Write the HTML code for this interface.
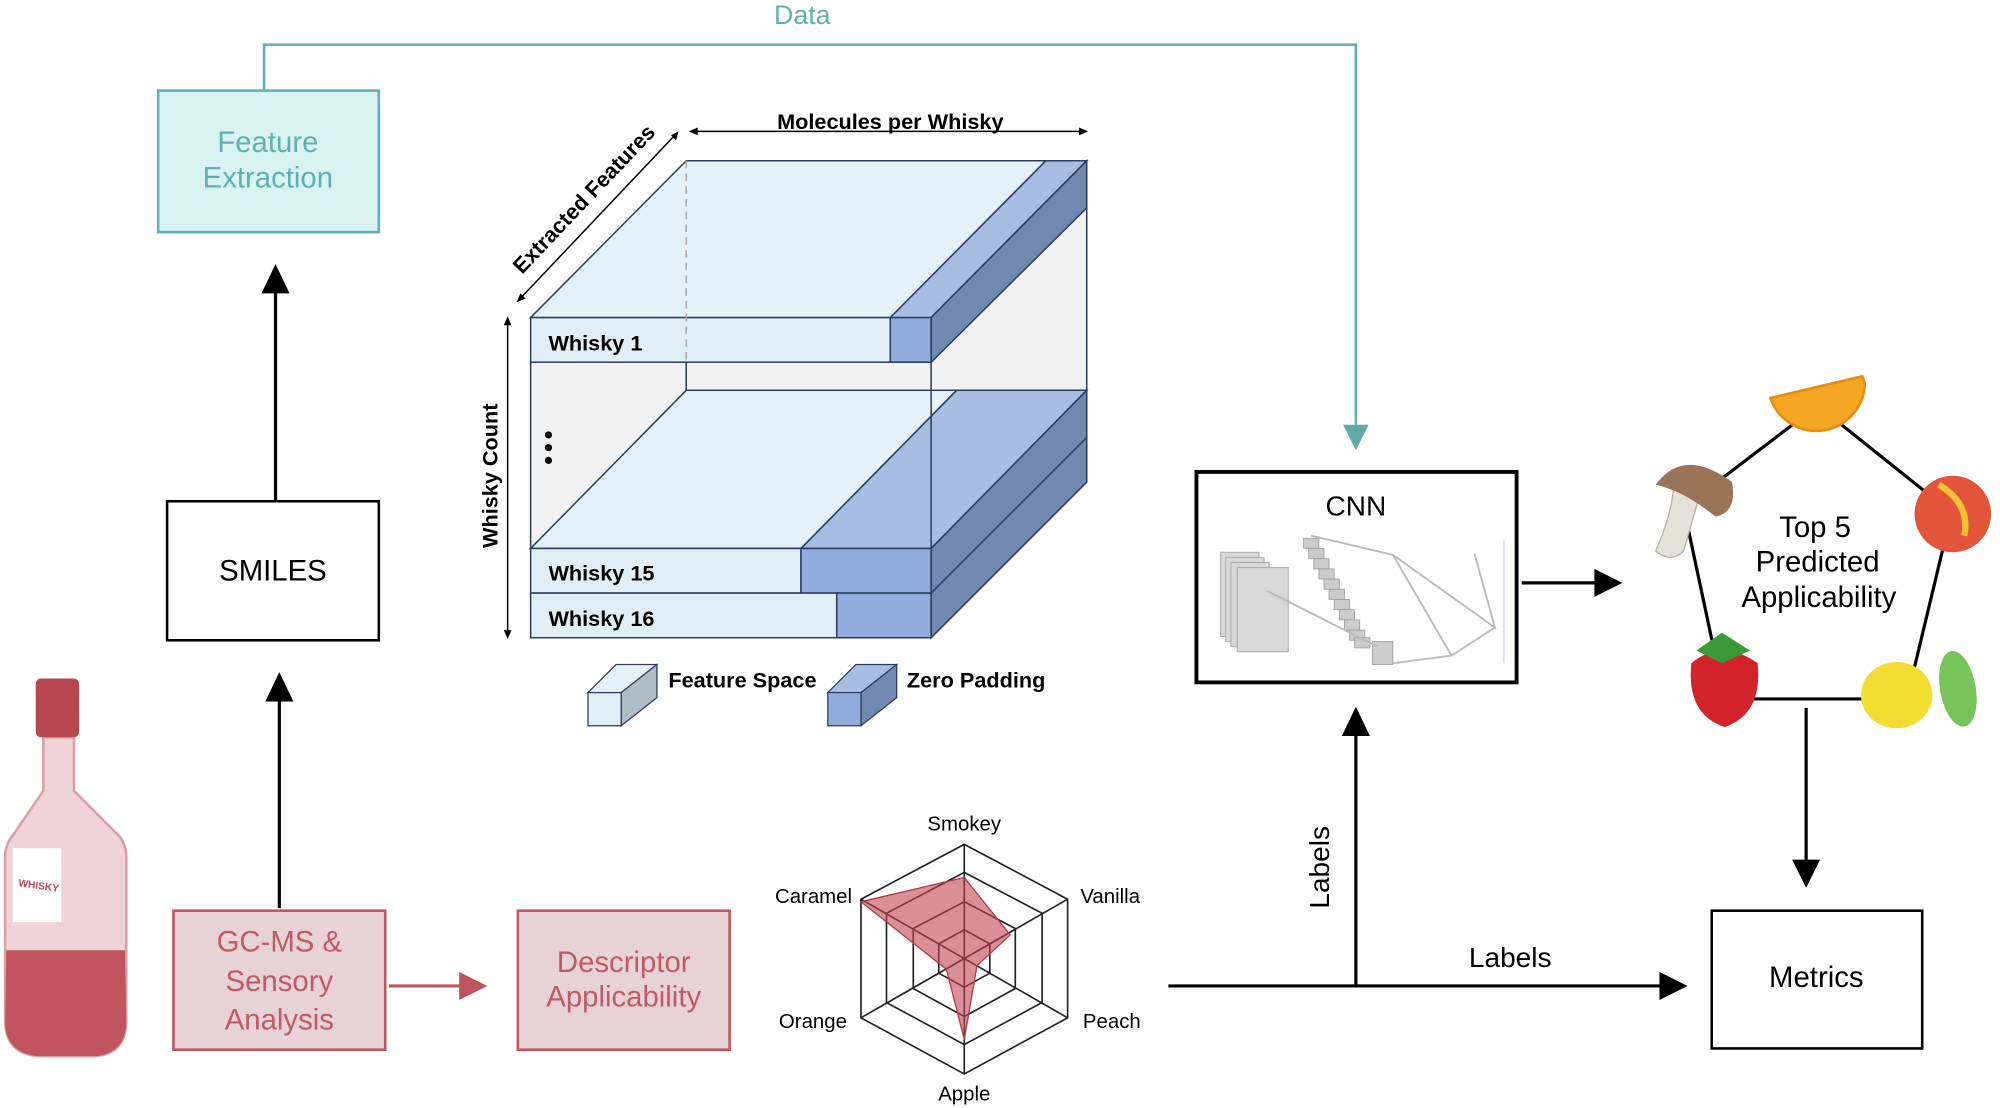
<!DOCTYPE html>
<html><head><meta charset="utf-8"><style>
html,body{margin:0;padding:0;background:#fff;width:2000px;height:1108px;overflow:hidden}
svg{display:block}
text{font-family:"Liberation Sans",sans-serif}
</style></head><body>
<svg width="2000" height="1108" viewBox="0 0 1568 868.7" preserveAspectRatio="none" xmlns="http://www.w3.org/2000/svg">
<!-- Data connector -->
<text x="629" y="19" font-size="21" fill="#5fb0b0" text-anchor="middle">Data</text>
<polyline points="207,71 207,35 1063,35 1063,335" fill="none" stroke="#5fb0b0" stroke-width="2"/>
<polygon points="1053,333 1073,333 1063,353" fill="#62aaaa"/>
<!-- Feature extraction -->
<rect x="124" y="71" width="173" height="111" fill="#d9f3f3" stroke="#5fb3b3" stroke-width="2"/>
<text x="210" y="119" font-size="23" fill="#5fb0b0" text-anchor="middle">Feature</text>
<text x="210" y="147" font-size="23" fill="#5fb0b0" text-anchor="middle">Extraction</text>
<!-- SMILES -->
<line x1="216" y1="392" x2="216" y2="228" stroke="#000" stroke-width="2.5"/>
<polygon points="205,230 227,230 216,207" fill="#000"/>
<rect x="131" y="393" width="166" height="109" fill="#fff" stroke="#000" stroke-width="2"/>
<text x="214" y="455" font-size="23" text-anchor="middle">SMILES</text>
<line x1="219" y1="712" x2="219" y2="548" stroke="#000" stroke-width="2.5"/>
<polygon points="208,550 230,550 219,527" fill="#000"/>
<!-- bottle -->
<g>
<path d="M34,578 L58,578 L58,620 L93,655 Q99,662 99,672 L99,800 Q99,826 75,828 L30,828 Q4,826 4,800 L4,672 Q4,662 10,655 L34,620 Z" fill="#efd3d6" stroke="#d9a0a6" stroke-width="2"/>
<path d="M5,745 L98,745 L99,800 Q99,826 75,828 L30,828 Q4,826 4,800 Z" fill="#c0555f"/>
<rect x="28" y="532" width="34" height="46" rx="4" fill="#b8464f"/>
<rect x="10" y="665" width="38" height="58" fill="#fff"/>
<text x="30" y="697" font-size="8" fill="#b8464f" font-weight="bold" text-anchor="middle" transform="rotate(8 30 697)">WHISKY</text>
</g>
<!-- GC-MS -->
<rect x="136" y="714" width="166" height="109" fill="#e7d3d5" stroke="#c0545e" stroke-width="2"/>
<text x="219" y="746" font-size="23" fill="#c05a64" text-anchor="middle">GC-MS &amp;</text>
<text x="219" y="777" font-size="23" fill="#c05a64" text-anchor="middle">Sensory</text>
<text x="219" y="807" font-size="23" fill="#c05a64" text-anchor="middle">Analysis</text>
<line x1="305" y1="773" x2="362" y2="773" stroke="#c0545e" stroke-width="2.5"/>
<polygon points="360,762 382,773 360,784" fill="#c0545e"/>
<rect x="406" y="714" width="166" height="109" fill="#e7d3d5" stroke="#c0545e" stroke-width="2"/>
<text x="489" y="762" font-size="23" fill="#c05a64" text-anchor="middle">Descriptor</text>
<text x="489" y="789" font-size="23" fill="#c05a64" text-anchor="middle">Applicability</text>
<!-- Cube -->
<g stroke="#2c3e60" stroke-width="1.2">
<polygon points="416,249 538,126 852,126 852,378 730,500 416,500" fill="#f2f2f2" stroke="none"/>
<line x1="538" y1="284" x2="538" y2="306"/>
<line x1="538" y1="306" x2="852" y2="306"/>
<line x1="852" y1="163" x2="852" y2="306"/>
<polygon points="416,249 538,126 820,126 698,249" fill="#e3f1f9"/>
<polygon points="698,249 820,126 852,126 730,249" fill="#a8bde3"/>
<polygon points="730,249 852,126 852,163 730,284" fill="#7189b0"/>
<rect x="416" y="249" width="282" height="35" fill="#e0eef7"/>
<rect x="698" y="249" width="32" height="35" fill="#91acdc"/>
<line x1="538" y1="126" x2="538" y2="284" stroke="#aaa" stroke-dasharray="6,4"/>
<polygon points="416,430 538,306 750,306 628,430" fill="#e3f1f9"/>
<polygon points="628,430 750,306 852,306 730,430" fill="#a8bde3"/>
<polygon points="730,430 852,306 852,343 730,465" fill="#7189b0"/>
<polygon points="730,465 852,343 852,378 730,500" fill="#7189b0"/>
<rect x="416" y="430" width="212" height="35" fill="#e0eef7"/>
<rect x="628" y="430" width="102" height="35" fill="#91acdc"/>
<rect x="416" y="465" width="240" height="35" fill="#e0eef7"/>
<rect x="656" y="465" width="74" height="35" fill="#91acdc"/>
<line x1="416" y1="284" x2="416" y2="430"/>
<line x1="730" y1="284" x2="730" y2="430"/>
</g>
<g font-size="17" font-weight="bold">
<text x="430" y="275">Whisky 1</text>
<text x="430" y="455">Whisky 15</text>
<text x="430" y="491">Whisky 16</text>
</g>
<circle cx="430" cy="341" r="2.8"/><circle cx="430" cy="351" r="2.8"/><circle cx="430" cy="361" r="2.8"/>
<g stroke="#000" stroke-width="1.2">
<line x1="542" y1="103" x2="851" y2="103"/>
<line x1="406" y1="236" x2="531" y2="104"/>
<line x1="398" y1="250" x2="398" y2="499"/>
</g>
<g fill="#000">
<polygon points="540,103 547,100 547,106"/><polygon points="853,103 846,100 846,106"/>
<polygon points="532,103 526,106 530,110"/><polygon points="405,237 408,230 412,234"/>
<polygon points="398,248 395,255 401,255"/><polygon points="398,501 395,494 401,494"/>
</g>
<text x="698" y="101" font-size="17" font-weight="bold" text-anchor="middle">Molecules per Whisky</text>
<text x="462" y="160" font-size="17" font-weight="bold" text-anchor="middle" transform="rotate(-46.5 462 160)">Extracted Features</text>
<text x="390" y="373" font-size="17" font-weight="bold" text-anchor="middle" transform="rotate(-90 390 373)">Whisky Count</text>
<!-- legend -->
<g stroke="#2c3e60" stroke-width="1">
<polygon points="461,543 483,521 515,521 487,543" fill="#e3f1f9"/>
<polygon points="487,543 515,521 515,547 487,569" fill="#b0bcc6"/>
<rect x="461" y="543" width="26" height="26" fill="#e0eef7"/>
<polygon points="649,543 671,521 703,521 675,543" fill="#a8bde3"/>
<polygon points="675,543 703,521 703,547 675,569" fill="#7189b0"/>
<rect x="649" y="543" width="26" height="26" fill="#91acdc"/>
</g>
<text x="524" y="539" font-size="17" font-weight="bold">Feature Space</text>
<text x="711" y="539" font-size="17" font-weight="bold">Zero Padding</text>
<!-- radar -->
<g fill="none" stroke="#222" stroke-width="1.3">
<polygon points="756,662 837,705 837,798 756,842 675,798 675,705"/>
<polygon points="756,684 817,716 817,786 756,819 695,786 695,716"/>
<polygon points="756,707 796,728 796,775 756,797 716,775 716,728"/>
<polygon points="756,729 776,740 776,763 756,774 736,763 736,740"/>
<line x1="756" y1="662" x2="756" y2="842"/>
<line x1="675" y1="705" x2="837" y2="798"/>
<line x1="837" y1="705" x2="675" y2="798"/>
</g>
<polygon points="756,688 792,733 766,757 756,815 742,760 675,707" fill="#c0454f" fill-opacity="0.6" stroke="#b03a44" stroke-width="1"/>
<g font-size="16">
<text x="756" y="651" text-anchor="middle">Smokey</text>
<text x="847" y="708">Vanilla</text>
<text x="849" y="806">Peach</text>
<text x="756" y="863" text-anchor="middle">Apple</text>
<text x="664" y="806" text-anchor="end">Orange</text>
<text x="668" y="708" text-anchor="end">Caramel</text>
</g>
<!-- labels -->
<line x1="916" y1="773" x2="1303" y2="773" stroke="#000" stroke-width="2.5"/>
<polygon points="1301,762 1323,773 1301,784" fill="#000"/>
<line x1="1063" y1="773" x2="1063" y2="575" stroke="#000" stroke-width="2.5"/>
<polygon points="1052,577 1074,577 1063,554" fill="#000"/>
<text x="1184" y="758" font-size="22" text-anchor="middle">Labels</text>
<text x="1042" y="680" font-size="22" text-anchor="middle" transform="rotate(-90 1042 680)">Labels</text>
<!-- CNN -->
<rect x="938" y="370" width="251" height="165" fill="#fff" stroke="#000" stroke-width="3"/>
<text x="1063" y="404" font-size="22" text-anchor="middle">CNN</text>
<g fill="#d8d8d8" stroke="#aaa" stroke-width="0.8">
<rect x="957" y="433" width="30" height="66"/><rect x="961" y="437" width="30" height="66"/><rect x="965" y="441" width="30" height="66"/><rect x="970" y="445" width="40" height="66"/>
</g>
<g fill="#ccc" stroke="#999" stroke-width="0.6">
<rect x="1022" y="422" width="12" height="8"/><rect x="1026" y="430" width="12" height="8"/><rect x="1030" y="438" width="12" height="8"/><rect x="1034" y="446" width="12" height="8"/><rect x="1038" y="454" width="12" height="8"/><rect x="1042" y="462" width="12" height="8"/><rect x="1046" y="470" width="12" height="8"/><rect x="1050" y="478" width="12" height="8"/><rect x="1054" y="486" width="12" height="8"/><rect x="1058" y="494" width="12" height="8"/><rect x="1062" y="500" width="12" height="8"/><rect x="1076" y="503" width="16" height="18"/>
</g>
<g fill="none" stroke="#bbb" stroke-width="1.5">
<polyline points="1028,420 1092,435 1172,492 1156,434"/><line x1="1092" y1="435" x2="1138" y2="514"/><polyline points="1092,520 1138,514 1172,492"/>
<line x1="993" y1="463" x2="1080" y2="507"/><line x1="1179" y1="423" x2="1179" y2="520" stroke="#dde"/>
</g>
<line x1="1193" y1="457" x2="1252" y2="457" stroke="#000" stroke-width="2.5"/>
<polygon points="1250,446 1272,457 1250,468" fill="#000"/>
<!-- pentagon -->
<polygon points="1425,318 1530,402 1495,548 1352,548 1320,398" fill="none" stroke="#000" stroke-width="2.5"/>
<text x="1423" y="421" font-size="23" text-anchor="middle">Top 5</text>
<text x="1425" y="448" font-size="23" text-anchor="middle">Predicted</text>
<text x="1426" y="476" font-size="23" text-anchor="middle">Applicability</text>
<!-- fruits -->
<path d="M1388,312 A38,38 0 0 0 1462,300 L1460,295 Z" fill="#f5a623" stroke="#e88a10" stroke-width="2"/>
<path d="M1312,383 Q1310,405 1298,432 Q1310,442 1320,432 L1332,390 Z" fill="#e6e2da" stroke="#b8b0a0"/>
<path d="M1298,380 Q1320,350 1358,378 Q1362,402 1345,405 Q1320,385 1298,380 Z" fill="#9a7458"/>
<circle cx="1531" cy="403" r="30" fill="#e2553b"/>
<path d="M1520,380 Q1545,395 1540,420" stroke="#f1c232" stroke-width="5" fill="none"/>
<path d="M1326,520 Q1350,500 1378,520 Q1382,560 1352,570 Q1322,560 1326,520 Z" fill="#d2232a"/>
<path d="M1330,510 L1350,496 L1372,510 L1350,520 Z" fill="#3a9a3a"/>
<ellipse cx="1487" cy="545" rx="28" ry="26" fill="#f2dd30"/>
<ellipse cx="1535" cy="540" rx="14" ry="30" fill="#77c35a" transform="rotate(-10 1535 540)"/>
<!-- metrics -->
<line x1="1416" y1="555" x2="1416" y2="676" stroke="#000" stroke-width="2.5"/>
<polygon points="1405,674 1427,674 1416,696" fill="#000"/>
<rect x="1342" y="714" width="165" height="108" fill="#fff" stroke="#000" stroke-width="2"/>
<text x="1424" y="774" font-size="23" text-anchor="middle">Metrics</text>
</svg>
</body></html>
